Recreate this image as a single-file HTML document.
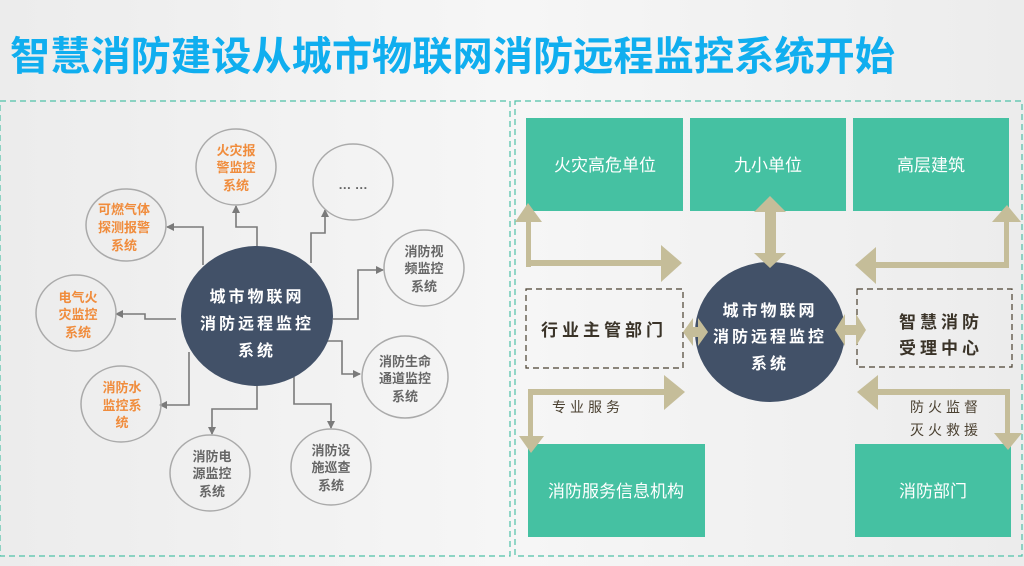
<!DOCTYPE html>
<html><head><meta charset="utf-8"><style>
html,body{margin:0;padding:0;}
body{width:1024px;height:561px;overflow:hidden;background:linear-gradient(90deg,#ececec,#f6f6f6 50%,#ececec);font-family:"Liberation Sans","Noto Sans CJK SC",sans-serif;}
svg text{font-family:"Liberation Sans","Noto Sans CJK SC",sans-serif;}
</style></head><body>
<svg width="1024" height="561" viewBox="0 0 1024 561" xmlns="http://www.w3.org/2000/svg">
<defs>
<marker id="ga" markerWidth="8" markerHeight="8" refX="7" refY="4" orient="auto" markerUnits="userSpaceOnUse"><path d="M0,0 L8,4 L0,8 z" fill="#7a7a7a"/></marker>
</defs>
<text x="10" y="70" font-size="40" font-weight="bold" fill="#10AEEF" textLength="885" lengthAdjust="spacingAndGlyphs">智慧消防建设从城市物联网消防远程监控系统开始</text>
<rect x="0" y="101" width="510" height="455" fill="none" stroke="#4fc1a8" stroke-width="1.2" stroke-dasharray="6,4"/>
<rect x="515" y="101" width="507" height="455" fill="none" stroke="#4fc1a8" stroke-width="1.2" stroke-dasharray="6,4"/>

<g fill="none" stroke="#7a7a7a" stroke-width="1.6" marker-end="url(#ga)">
<path d="M257,250 V227 H236 V206"/>
<path d="M203,265 V227 H167"/>
<path d="M311,263 V233 H325 V210"/>
<path d="M333,319 H358 V270 H383"/>
<path d="M176,319 H145 V314 H116"/>
<path d="M324,341 H342 V374 H360"/>
<path d="M189,352 V405 H160"/>
<path d="M257,382 V409 H212 V434"/>
<path d="M294,377 V404 H331 V428"/>
</g>
<ellipse cx="257" cy="316" rx="76" ry="70" fill="#425168"/>
<g fill="#fff" font-size="16" font-weight="bold" text-anchor="middle" letter-spacing="3">
<text x="257" y="302">城市物联网</text><text x="257" y="329">消防远程监控</text><text x="257" y="356">系统</text>
</g>
<g fill="none" stroke="#aaa" stroke-width="1.5">
<ellipse cx="236" cy="167" rx="40" ry="38"/>
<ellipse cx="353" cy="182" rx="40" ry="38"/>
<ellipse cx="126" cy="225" rx="40" ry="36"/>
<ellipse cx="424" cy="268" rx="40" ry="38"/>
<ellipse cx="76" cy="313" rx="40" ry="38"/>
<ellipse cx="405" cy="377" rx="43" ry="41"/>
<ellipse cx="121" cy="404" rx="40" ry="38"/>
<ellipse cx="210" cy="473" rx="40" ry="38"/>
<ellipse cx="331" cy="467" rx="40" ry="38"/>
</g>
<g font-size="13" font-weight="bold" text-anchor="middle">
<g fill="#F08C3C">
<text x="236" y="155">火灾报</text><text x="236" y="172">警监控</text><text x="236" y="190">系统</text>
<text x="124" y="214">可燃气体</text><text x="124" y="232">探测报警</text><text x="124" y="250">系统</text>
<text x="78" y="302">电气火</text><text x="78" y="319">灾监控</text><text x="78" y="337">系统</text>
<text x="122" y="392">消防水</text><text x="122" y="410">监控系</text><text x="122" y="427">统</text>
</g>
<g fill="#666">
<text x="353" y="189">… …</text>
<text x="424" y="256">消防视</text><text x="424" y="273">频监控</text><text x="424" y="291">系统</text>
<text x="405" y="366">消防生命</text><text x="405" y="383">通道监控</text><text x="405" y="401">系统</text>
<text x="212" y="461">消防电</text><text x="212" y="478">源监控</text><text x="212" y="496">系统</text>
<text x="331" y="455">消防设</text><text x="331" y="472">施巡查</text><text x="331" y="490">系统</text>
</g>
</g>

<g fill="#45C1A2">
<rect x="526" y="118" width="157" height="93"/>
<rect x="690" y="118" width="156" height="93"/>
<rect x="853" y="118" width="156" height="93"/>
<rect x="528" y="444" width="177" height="93"/>
<rect x="855" y="444" width="156" height="93"/>
</g>
<g fill="#fff" font-size="17" text-anchor="middle">
<text x="605" y="171">火灾高危单位</text>
<text x="768" y="171">九小单位</text>
<text x="931" y="171">高层建筑</text>
<text x="616" y="497">消防服务信息机构</text>
<text x="933" y="497">消防部门</text>
</g>
<g fill="none" stroke="#4a4030" stroke-width="1.2" stroke-dasharray="6,4">
<rect x="526" y="289" width="157" height="79"/>
<rect x="857" y="289" width="155" height="78"/>
</g>
<g font-size="17" font-weight="bold" fill="#3a3328" text-anchor="middle" letter-spacing="4">
<text x="604" y="336">行业主管部门</text>
<text x="941" y="328">智慧消防</text>
<text x="941" y="354">受理中心</text>
</g>

<ellipse cx="770" cy="332" rx="75" ry="70" fill="#425168"/>

<g fill="#C5BD99">
<rect x="526" y="222" width="5" height="45"/>
<polygon points="515,222 528,203 542,222"/>
<rect x="526" y="260" width="138" height="6"/>
<polygon points="661,245 682,263 661,282"/>
<rect x="765" y="212" width="11" height="42"/>
<polygon points="754,212 770,196 786,212"/>
<polygon points="754,253 770,268 786,253"/>
<rect x="1004" y="222" width="5" height="45"/>
<polygon points="992,222 1007,205 1021,222"/>
<rect x="875" y="262" width="134" height="6"/>
<polygon points="876,247 855,265 876,284"/>
<polygon points="683,332 693,318 693,346"/>
<rect x="692" y="327" width="8" height="10"/>
<polygon points="708,332 698,318 698,346"/>
<polygon points="835,330 845,314 845,346"/>
<rect x="844" y="325" width="12" height="10"/>
<polygon points="866,330 856,314 856,346"/>
<rect x="528" y="389" width="138" height="6"/>
<polygon points="664,375 685,392 664,410"/>
<rect x="528" y="389" width="5" height="48"/>
<polygon points="519,436 531,453 544,436"/>
<rect x="876" y="389" width="134" height="6"/>
<polygon points="878,375 857,392 878,410"/>
<rect x="1005" y="389" width="5" height="45"/>
<polygon points="994,433 1008,450 1022,433"/>
</g>
<g font-size="14" fill="#4a4030" letter-spacing="4">
<text x="552" y="412">专业服务</text>
<text x="910" y="412">防火监督</text>
<text x="910" y="435">灭火救援</text>
</g>

<g fill="#fff" font-size="16" font-weight="bold" text-anchor="middle" letter-spacing="3">
<text x="770" y="316">城市物联网</text><text x="770" y="342">消防远程监控</text><text x="770" y="369">系统</text>
</g>
</svg>
</body></html>
